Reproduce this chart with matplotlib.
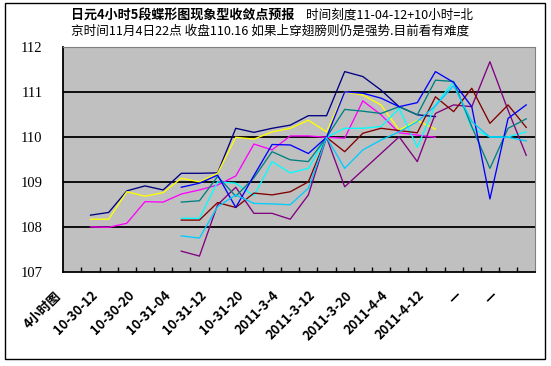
import numpy as np
import matplotlib
matplotlib.use("Agg")
import matplotlib.pyplot as plt
import matplotlib.transforms as mtransforms
from matplotlib.patches import Rectangle

plt.rcParams['font.family'] = ['Noto Sans CJK SC', 'DejaVu Sans']

N = 26
x_labels = ["4小时图", "", "10-30-12", "", "10-30-20", "", "10-31-04", "", "10-31-12", "",
            "10-31-20", "", "2011-3-4", "", "2011-3-12", "", "2011-3-20", "", "2011-4-4", "",
            "2011-4-12", "", "—", "", "—", ""]

nan = np.nan
navy = [nan, 108.27, 108.33, 108.81, 108.92, 108.83, 109.2, 109.2, 109.21, 110.2, 110.11, 110.2,
        110.27, 110.48, 110.48, 111.46, 111.35, 111.05, 110.68, 110.5, 110.46, nan, nan, nan, nan, nan]
magenta = [nan, 108.01, 108.0, 108.09, 108.57, 108.56, 108.74, 108.83, 108.94, 109.14, 109.85, 109.72,
           110.03, 110.03, 110.0, 109.98, 110.81, 110.5, 110.1, 110.05, 110.0, nan, nan, nan, nan, nan]
yellow = [nan, 108.18, 108.18, 108.79, 108.69, 108.77, 109.09, 109.01, 109.2, 110.0, 109.96, 110.12,
          110.2, 110.38, 110.12, 111.01, 110.94, 110.72, 110.16, 110.37, 110.18, nan, nan, nan, nan, nan]
cyan_a = [nan] * 6 + [108.2, 108.2, 109.01, 108.98, 108.7, 109.46, 109.21, 109.31, 110.0, 110.2,
                      110.2, 110.24, 110.64, 109.78, 110.72, 111.24, 110.2, 110.01, 110.01, 110.12]
purple = [nan] * 6 + [107.47, 107.36, 108.5, 108.89, 108.31, 108.31, 108.18, 108.72, 110.0, 108.9,
                      109.27, 109.64, 110.01, 109.46, 110.53, 110.72, 110.68, 111.68, 110.6, 109.6]
darkred = [nan] * 6 + [108.16, 108.16, 108.55, 108.44, 108.76, 108.72, 108.79, 109.01, 110.0, 109.68,
                       110.09, 110.2, 110.15, 110.1, 110.9, 110.57, 111.09, 110.31, 110.72, 110.22]
teal = [nan] * 6 + [108.56, 108.59, 109.13, 108.69, 109.1, 109.68, 109.5, 109.46, 110.0, 110.62,
                    110.58, 110.53, 110.68, 110.5, 111.27, 111.24, 110.24, 109.31, 110.2, 110.41]
blue = [nan] * 6 + [108.89, 108.98, 109.16, 108.44, 109.15, 109.84, 109.83, 109.64, 110.0, 111.01,
                    110.98, 110.87, 110.68, 110.77, 111.46, 111.22, 110.68, 108.63, 110.42, 110.72]
cyan_b = [nan] * 6 + [107.81, 107.76, 108.46, 108.72, 108.53, 108.52, 108.5, 108.87, 110.0, 109.31,
                      109.72, 109.94, 110.12, 110.35, 110.7, 111.15, 110.35, 110.0, 110.0, 109.92]

series = [
    (navy, '#000080'),
    (magenta, '#FF00FF'),
    (yellow, '#FFFF00'),
    (cyan_a, '#00FFFF'),
    (purple, '#800080'),
    (darkred, '#800000'),
    (teal, '#008080'),
    (blue, '#0000FF'),
    (cyan_b, '#00CCFF'),
]

W, H = 551, 366
fig = plt.figure(figsize=(W / 100, H / 100), dpi=100)
fig.patch.set_facecolor('white')

# outer border
fig.patches.append(Rectangle((5 / W, 1 - 359 / H), 540 / W, 356 / H, transform=fig.transFigure,
                             fill=False, edgecolor='black', linewidth=1.0))

ax = fig.add_axes([63.3 / W, 1 - 272.3 / H, 472 / W, 225 / H])
ax.set_facecolor('#C0C0C0')
ax.set_xlim(0, N)
ax.set_ylim(107, 112)
for g in [108, 109, 110, 111]:
    ax.axhline(g, color='black', lw=1.3, zorder=1)

xs = np.arange(N) + 0.5
for vals, col in series:
    ax.plot(xs, vals, color=col, lw=0.95, zorder=3)

ax.spines['top'].set_color('#808080')
ax.spines['right'].set_color('#808080')
ax.spines['left'].set_color('black')
ax.spines['bottom'].set_color('black')
ax.spines['left'].set_linewidth(1.3)
ax.spines['bottom'].set_linewidth(1.3)

ax.set_yticks([107, 108, 109, 110, 111, 112])
ax.set_yticklabels(['107', '108', '109', '110', '111', '112'], fontsize=10.5, family=['Liberation Serif'])
ax.tick_params(axis='y', length=0, pad=15)

ax.set_xticks(np.arange(1, N))
ax.set_xticklabels([])
ax.tick_params(axis='x', direction='in', length=3.5, width=1.0)

offset = mtransforms.ScaledTranslation(-0.13, -0.21, fig.dpi_scale_trans)
for i, lab in enumerate(x_labels):
    if lab:
        ax.text(i + 0.5, 107, lab, rotation=45, rotation_mode='anchor', ha='right', va='center',
                fontsize=9.3, fontweight='bold', transform=ax.transData + offset, clip_on=False)

# title
fig.text(71 / W, 1 - 15 / H, "日元4小时5段蝶形图现象型收敛点预报", fontsize=9.35, fontweight='bold',
         ha='left', va='center')
fig.text(306 / W, 1 - 15 / H, "时间刻度11-04-12+10小时=北", fontsize=9.1, ha='left', va='center')
fig.text(71 / W, 1 - 31 / H, "京时间11月4日22点 收盘110.16 如果上穿翅膀则仍是强势.目前看有难度", fontsize=9.1,
         ha='left', va='center')

fig.savefig('out.png', dpi=100)
